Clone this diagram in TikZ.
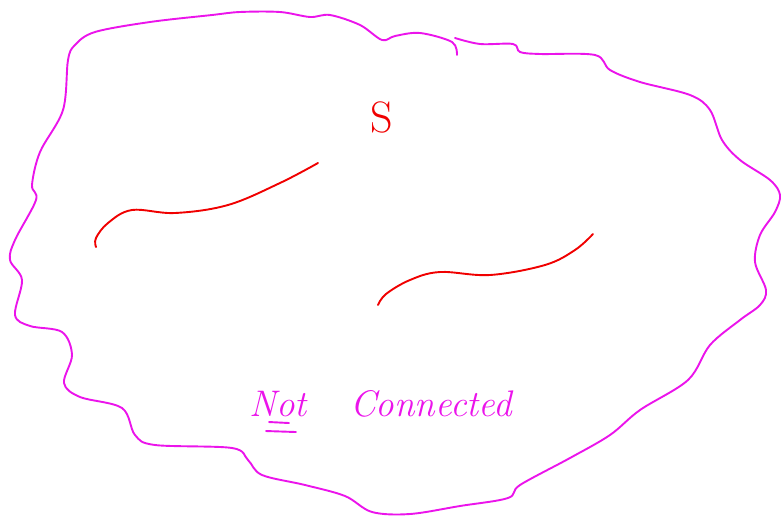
\documentclass[tikz,border=0pt]{standalone}
\usepackage{tikz}

\definecolor{penpink}{RGB}{235,20,235}
\definecolor{penred}{RGB}{240,0,0}

\begin{document}
\begin{tikzpicture}[
    x=1pt,
    y=-1pt,
    outline/.style={
        draw=penpink,
        line width=1.9pt,
        line cap=round,
        line join=round
    },
    scribble/.style={
        draw=penred,
        line width=1.9pt,
        line cap=round
    },
    note/.style={
        text=#1,
        font=\fontsize{37}{42}\selectfont\itshape,
        inner sep=0pt
    }
]
\useasboundingbox (0,0) rectangle (781,516);

% Blob outline (main stroke)
\draw[outline] plot[smooth, tension=0.55] coordinates {
    (457,55) (452,42) (420,33) (395,36) (382,40) (360,25) (330,15)
    (310,17) (280,12) (240,12) (212,15) (150,22) (95,32) (75,45)
    (68,60) (63,110) (40,152) (32,185) (36,200) (15,240) (10,260)
    (22,280) (15,315) (30,326) (62,332) (72,355) (64,383) (80,397)
    (122,408) (135,435) (155,445) (232,448) (248,460) (262,475)
    (305,485) (345,496) (372,512) (410,514) (460,506) (508,498)
    (520,485) (570,458) (610,435) (640,410) (688,380) (710,345)
    (740,320) (760,305) (766,290) (755,262) (760,235) (775,212)
    (780,195) (770,180) (740,160) (722,140) (710,110) (690,95)
    (640,82) (610,70) (595,55) (540,54) (520,52) (513,44) (480,44)
    (455,38)};

% Set label
\node[note=penred, font=\fontsize{44}{50}\selectfont] (setname) at (382,117) {S};

% Pieces
\draw[scribble] plot[smooth, tension=0.6] coordinates {
    (96,247) (96,238) (108,223) (132,210) (175,213) (228,205)
    (280,183) (318,163)};
\draw[scribble] plot[smooth, tension=0.6] coordinates {
    (378,305) (386,294) (410,280) (440,272) (490,275) (545,265)
    (575,250) (593,234)};

% Caption
\node[note=penpink] (notword) at (278,404) {Not};
\node[note=penpink] (connword) at (431,404) {Connected};
\draw[outline] ([xshift=-9pt,yshift=-5pt]notword.south) -- ([xshift=11pt,yshift=-6pt]notword.south);
\draw[outline] ([xshift=-12pt,yshift=-14pt]notword.south) -- ([xshift=18pt,yshift=-15pt]notword.south);

\end{tikzpicture}
\end{document}
